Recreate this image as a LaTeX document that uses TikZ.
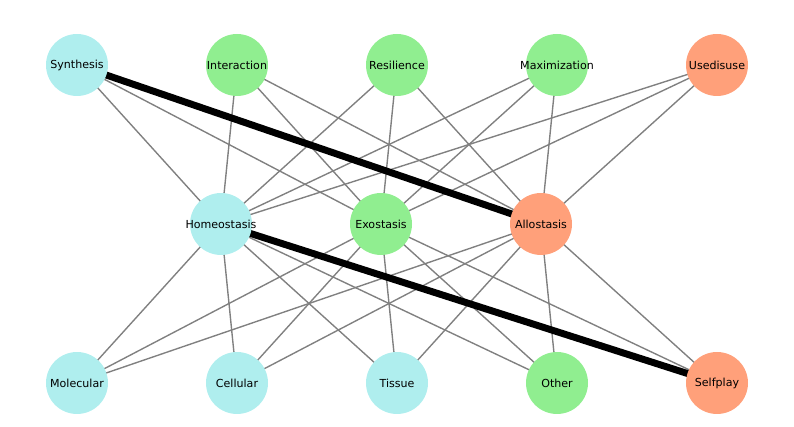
\documentclass[tikz,border=0pt]{standalone}
\usepackage{fontspec}
\setmainfont{DejaVu Sans}
\pgfdeclarelayer{background}
\pgfsetlayers{background,main}
\definecolor{cturq}{HTML}{AFEEEE}
\definecolor{cgreen}{HTML}{90EE90}
\definecolor{csalmon}{HTML}{FFA07A}
\definecolor{cedge}{HTML}{808080}
\newcommand{\zw}[1]{\makebox[0pt][c]{#1}}
\begin{document}
\begin{tikzpicture}[x=0.75pt,y=-0.75pt,
  vtx/.style={circle,minimum size=46.5pt,inner sep=0pt,font=\fontsize{8.3pt}{10pt}\selectfont,text=black},
  turq/.style={vtx,fill=cturq},
  grn/.style={vtx,fill=cgreen},
  salm/.style={vtx,fill=csalmon},
  edge/.style={draw=cedge,line width=1.04pt},
  heavy/.style={draw=black,line width=5.2pt}]
\useasboundingbox (0,0) rectangle (794,427);
\node[turq] (syn) at (77,65) {\zw{Synthesis}};
\node[grn] (int) at (237,65) {\zw{Interaction}};
\node[grn] (res) at (397,65) {\zw{Resilience}};
\node[grn] (max) at (557,65) {\zw{Maximization}};
\node[salm] (use) at (717,65) {\zw{Usedisuse}};
\node[turq] (hom) at (221,224) {\zw{Homeostasis}};
\node[grn] (exo) at (381,224) {\zw{Exostasis}};
\node[salm] (all) at (541,224) {\zw{Allostasis}};
\node[turq] (mol) at (77,383) {\zw{Molecular}};
\node[turq] (cel) at (237,383) {\zw{Cellular}};
\node[turq] (tis) at (397,383) {\zw{Tissue}};
\node[grn] (oth) at (557,383) {\zw{Other}};
\node[salm] (sel) at (717,383) {\zw{Selfplay}};
\begin{pgfonlayer}{background}
\foreach \t in {syn,int,res,max,use}{
  \foreach \m in {hom,exo,all}{
    \path[edge] (\t.center) -- (\m.center);
  }
}
\foreach \m in {hom,exo,all}{
  \foreach \b in {mol,cel,tis,oth,sel}{
    \path[edge] (\m.center) -- (\b.center);
  }
}
\path[heavy] (syn.center) -- (all.center);
\path[heavy] (hom.center) -- (sel.center);
\end{pgfonlayer}
\end{tikzpicture}
\end{document}
